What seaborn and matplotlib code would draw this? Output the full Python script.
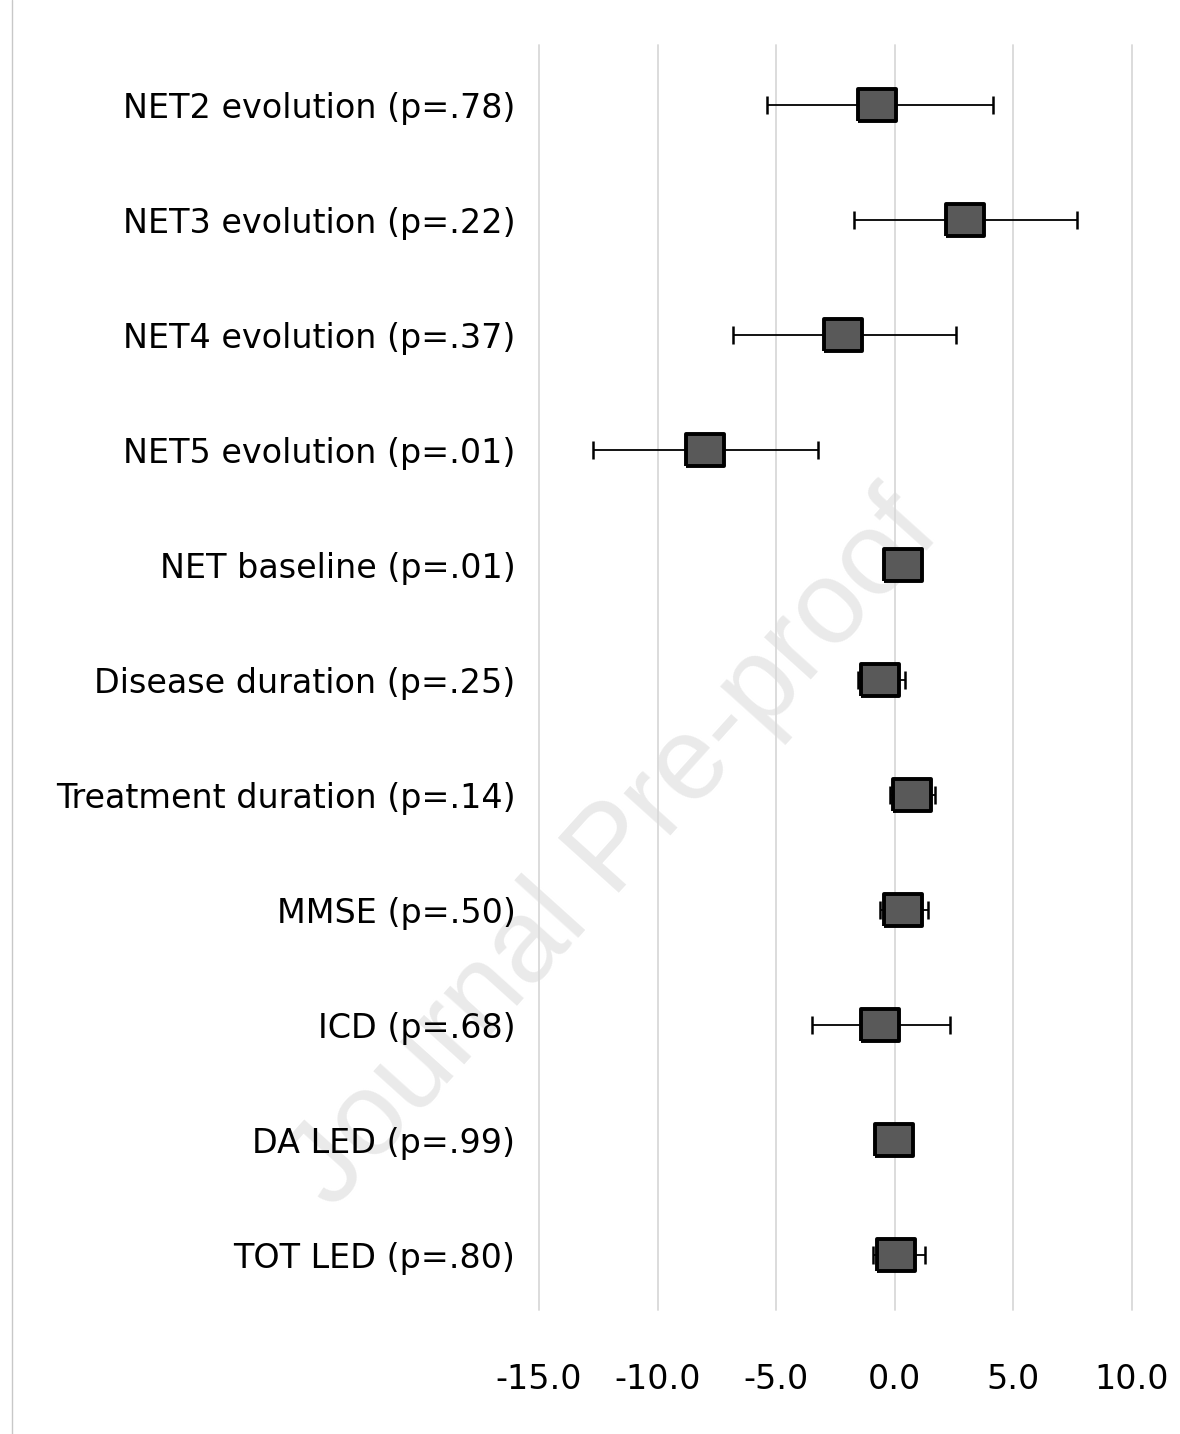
import matplotlib
matplotlib.use("Agg")
import matplotlib.pyplot as plt
import seaborn as sns
import pandas as pd

# values
labels = [
    "NET2 evolution (p=.78)",
    "NET3 evolution (p=.22)",
    "NET4 evolution (p=.37)",
    "NET5 evolution (p=.01)",
    "NET baseline (p=.01)",
    "Disease duration (p=.25)",
    "Treatment duration (p=.14)",
    "MMSE (p=.50)",
    "ICD (p=.68)",
    "DA LED (p=.99)",
    "TOT LED (p=.80)",
]
estimate = [-0.74, 2.95, -2.17, -7.99, 0.34, -0.63, 0.71, 0.34, -0.63, -0.02, 0.07]
ci_low = [-5.4, -1.73, -6.84, -12.74, 0.05, -1.56, -0.2, -0.63, -3.5, -0.3, -0.9]
ci_high = [4.13, 7.7, 2.6, -3.25, 0.6, 0.44, 1.69, 1.42, 2.33, 0.25, 1.27]
xticks = [-15, -10, -5, 0, 5, 10]

df = pd.DataFrame({"label": labels, "est": estimate, "lo": ci_low, "hi": ci_high})
df["pos"] = range(len(df))

sns.set_theme(style="white")
plt.rcParams["font.family"] = ["DejaVu Sans"]

fig = plt.figure(figsize=(11.8, 14.34), dpi=100)
ax = fig.add_axes([539 / 1180, 1 - 1310 / 1434, (1132 - 539) / 1180, (1310 - 45) / 1434])
ax.set_facecolor("none")

# light vertical grid
for t in xticks:
    ax.axvline(t, color="#d9d9d9", lw=1.3, zorder=0, clip_on=False)

ax.errorbar(
    df["est"], df["pos"],
    xerr=[df["est"] - df["lo"], df["hi"] - df["est"]],
    fmt="none", ecolor="black", elinewidth=1.3, capsize=6.5, capthick=1.8, zorder=2,
)

box = [(-1.2, -1), (1.2, -1), (1.2, 1), (-1.2, 1), (-1.2, -1)]
sns.scatterplot(
    data=df, x="est", y="pos", marker=box, s=27 ** 2,
    color="#595959", edgecolor="black", linewidth=2.8, zorder=3, ax=ax, legend=False,
)

ax.set_xlim(-15, 10)
ax.set_ylim(10.48, -0.52)
ax.set_xticks(xticks)
ax.set_xticklabels([f"{t:.1f}" for t in xticks], fontsize=24, color="black")
ax.set_yticks(df["pos"])
ax.set_yticklabels(df["label"], fontsize=24, color="black")
ax.tick_params(axis="x", length=0, pad=38)
ax.tick_params(axis="y", length=0, pad=17)
ax.set_xlabel("")
ax.set_ylabel("")
for s in ax.spines.values():
    s.set_visible(False)

# left page border line
fig.add_artist(plt.Line2D([12 / 1180, 12 / 1180], [0, 1], color="#c8c8c8", lw=1))

# watermark, behind the chart
fig.text(615 / 1180, 1 - 852 / 1434, "Journal Pre-proof", fontsize=85, color="#eaeaea",
         family="Liberation Sans", rotation=48, ha="center", va="center", zorder=-1)

fig.savefig("out.png", dpi=100, facecolor="white")
